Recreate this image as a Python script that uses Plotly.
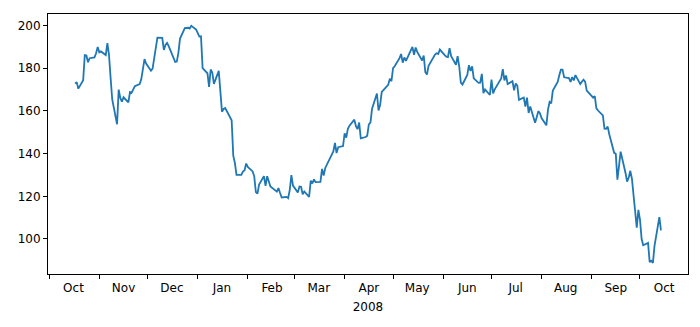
import pandas as pd
import plotly.graph_objects as go

# Closing prices, one list per month (trading days)
oct07 = [172.75, 173.50, 170.42, 174.36, 186.16, 185.93, 182.78, 184.70, 185.09, 187.00, 189.95]
nov07 = [187.44, 187.87, 186.18, 191.79, 186.30, 175.47, 165.37, 153.76, 169.96, 166.11, 164.30,
         166.39, 163.95, 168.85, 168.46, 171.54, 172.54, 174.81, 180.22, 184.29, 182.22]
dec07 = [178.86, 179.81, 185.50, 189.95, 194.30, 194.21, 188.54, 190.86, 191.83, 190.39,
         184.40, 182.98, 183.12, 187.21, 193.91, 198.80, 198.95, 198.57, 199.83, 198.08]
jan08 = [194.84, 194.93, 180.05, 177.64, 171.25, 179.40, 178.02, 172.69, 178.78, 169.04, 159.64,
         160.89, 161.36, 155.64, 139.07, 135.60, 130.01, 130.01, 131.54, 132.18, 135.36]
feb08 = [133.75, 131.65, 129.36, 122.00, 121.24, 125.48, 129.45, 124.86, 129.40, 127.46,
         124.63, 122.18, 123.82, 121.54, 119.46, 119.74, 119.15, 122.96, 129.91, 125.02]
mar08 = [121.73, 124.62, 124.49, 120.93, 122.25, 119.69, 127.35, 126.03, 127.94, 126.61,
         126.73, 132.82, 129.67, 133.27, 139.53, 140.98, 145.06, 140.25, 143.01, 143.50]
apr08 = [149.53, 147.49, 151.61, 153.08, 155.89, 152.84, 151.44, 154.55, 147.14, 147.78, 148.38,
         153.70, 154.49, 161.04, 168.16, 160.20, 162.89, 168.94, 169.73, 172.24, 175.05, 173.95]
may08 = [180.00, 180.94, 184.73, 186.66, 182.59, 185.06, 183.45, 188.16, 189.96, 186.26, 189.73,
         187.62, 183.60, 185.90, 178.19, 177.05, 181.17, 186.43, 187.01, 186.69, 188.75]
jun08 = [186.10, 185.37, 185.19, 189.43, 185.64, 181.61, 185.64, 180.81, 173.26, 172.37, 176.84,
         181.43, 178.75, 180.90, 175.27, 173.16, 173.25, 177.39, 168.26, 170.09, 167.44]
jul08 = [174.68, 168.18, 170.12, 175.16, 179.55, 174.25, 176.63, 172.58, 173.88, 169.64, 172.81,
         171.81, 165.15, 166.29, 162.02, 166.26, 159.03, 162.12, 154.40, 157.08, 159.88, 158.95]
aug08 = [156.66, 153.23, 160.64, 164.19, 163.57, 169.55, 173.56, 176.73, 179.30, 179.32, 175.74,
         175.39, 173.53, 175.84, 174.29, 176.79, 172.55, 173.64, 174.67, 173.74, 169.53]
sep08 = [166.19, 166.96, 161.22, 160.18, 157.92, 151.68, 151.61, 152.65, 148.94, 140.36, 139.88,
         127.83, 134.09, 140.91, 131.05, 126.84, 128.71, 131.93, 128.24, 105.26, 113.66]
oct08 = [109.12, 100.10, 97.07, 98.14, 89.16, 89.79, 88.74, 96.80, 110.26, 104.08]

holidays = ["2007-11-22", "2007-12-25", "2008-01-01", "2008-01-21", "2008-02-18",
            "2008-03-21", "2008-05-26", "2008-07-04", "2008-09-01"]
start_date, end_date = "2007-10-17", "2008-10-14"

month_starts = ["2007-10-01", "2007-11-01", "2007-12-01", "2008-01-01", "2008-02-01",
                "2008-03-01", "2008-04-01", "2008-05-01", "2008-06-01", "2008-07-01",
                "2008-08-01", "2008-09-01", "2008-10-01", "2008-11-01"]
month_mids = ["2007-10-16", "2007-11-16", "2007-12-16", "2008-01-16", "2008-02-16",
              "2008-03-16", "2008-04-16", "2008-05-16", "2008-06-16", "2008-07-16",
              "2008-08-16", "2008-09-16", "2008-10-16"]
month_labels = ["Oct", "Nov", "Dec", "Jan", "Feb", "Mar", "Apr", "May", "Jun",
                "Jul", "Aug", "Sep", "Oct"]
y_ticks = [100, 120, 140, 160, 180, 200]

close = oct07 + nov07 + dec07 + jan08 + feb08 + mar08 + apr08 + may08 + jun08 + jul08 + aug08 + sep08 + oct08
dates = pd.bdate_range(start_date, end_date, freq="C", holidays=holidays)
n = min(len(dates), len(close))
dates, close = dates[:n], close[:n]

fig = go.Figure(go.Scatter(x=dates, y=close, mode="lines",
                           line=dict(color="#1f77b4", width=1.8), hoverinfo="skip"))

font = dict(family="DejaVu Sans", size=12, color="#000000")
fig.update_layout(
    width=700, height=327,
    margin=dict(l=48, r=12, t=14, b=53),
    paper_bgcolor="white", plot_bgcolor="white",
    showlegend=False, font=font,
)
fig.update_xaxes(
    type="date", range=["2007-09-30 05:00", "2008-10-30 18:00"],
    tickmode="array", tickvals=month_mids, ticktext=month_labels,
    ticks="", ticklen=0, ticklabelstandoff=3,
    minor=dict(tickmode="array", tickvals=month_starts, ticks="outside",
               ticklen=4, tickwidth=1, tickcolor="black", showgrid=False),
    showline=True, linecolor="black", linewidth=1, mirror=True,
    showgrid=False, zeroline=False,
    title=dict(text="2008", font=font, standoff=8),
    tickfont=font,
)
fig.update_yaxes(
    range=[83.6, 205.4], tickmode="array", tickvals=y_ticks,
    ticks="outside", ticklen=4, tickwidth=1, tickcolor="black",
    showline=True, linecolor="black", linewidth=1, mirror=True,
    showgrid=False, zeroline=False, tickfont=font,
)
fig.write_html("out.html", config={"displayModeBar": False},
               post_script="document.body.style.margin='0';")
